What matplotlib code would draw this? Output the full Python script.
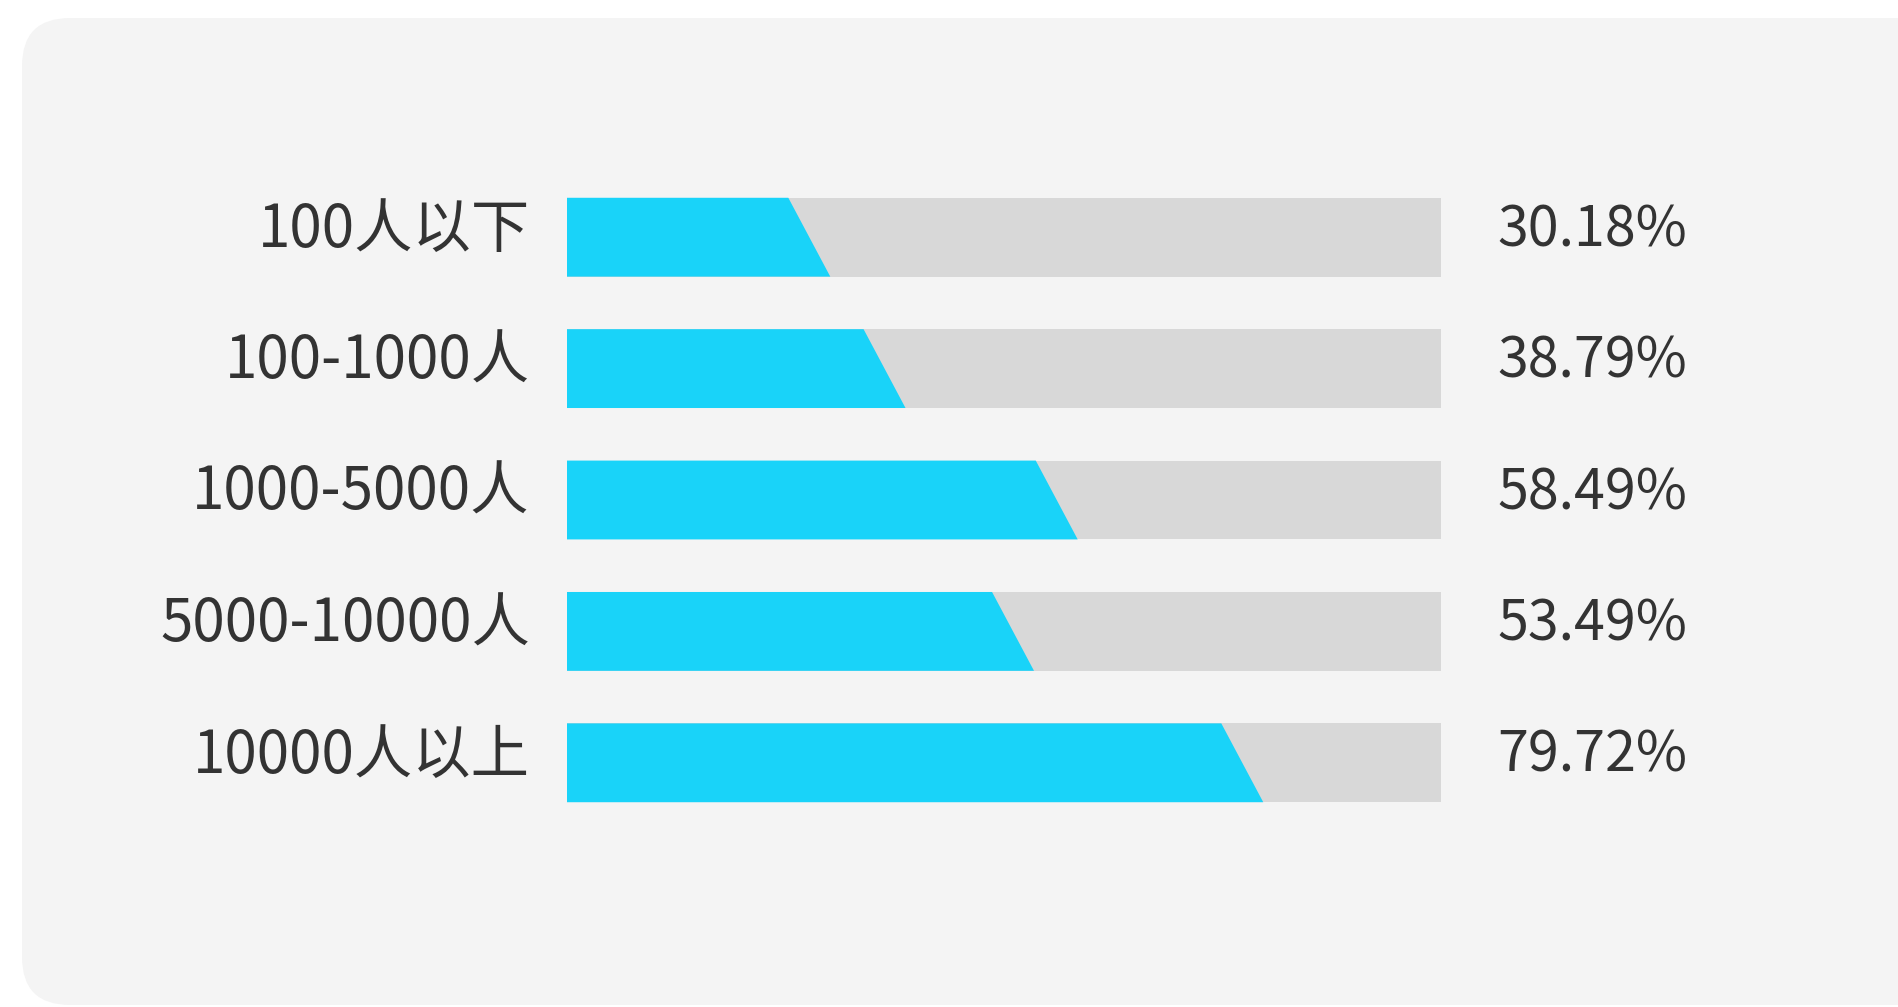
import matplotlib
matplotlib.use("Agg")
import matplotlib.pyplot as plt
from matplotlib.patches import FancyBboxPatch, Polygon, Rectangle

plt.rcParams["font.family"] = ["Noto Sans CJK SC", "DejaVu Sans"]

categories = ["100人以下", "100-1000人", "1000-5000人", "5000-10000人", "10000人以上"]
values = [30.18, 38.79, 58.49, 53.49, 79.72]
value_labels = ["30.18%", "38.79%", "58.49%", "53.49%", "79.72%"]

BLUE = "#19D3F9"
TRACK = "#D8D8D8"
PANEL = "#F4F4F4"
TEXT = "#333333"

W, H = 1898, 1007
fig = plt.figure(figsize=(W / 100, H / 100), dpi=100)
fig.patch.set_facecolor("white")

# background card drawn in a full-figure axes measured in pixels
bg = fig.add_axes([0, 0, 1, 1], zorder=0)
bg.set_xlim(0, W)
bg.set_ylim(H, 0)
bg.axis("off")
bg.add_patch(FancyBboxPatch((22, 18), 1990 - 22, 1005 - 18,
                            boxstyle="round,pad=0,rounding_size=48",
                            facecolor=PANEL, edgecolor="none"))

ax = fig.add_axes([566.5 / W, 1 - 828.5 / H, 874 / W, 657 / H], zorder=1)
ax.set_xlim(0, 100)
ax.set_ylim(len(categories) - 0.5, -0.5)
ax.axis("off")

bar_h = 0.60
slant = 4.8
text_dy = -0.05
for i, (cat, v, lab) in enumerate(zip(categories, values, value_labels)):
    top, bot = i - bar_h / 2, i + bar_h / 2
    ax.add_patch(Rectangle((0, top), 100, bar_h, facecolor=TRACK, edgecolor="none"))
    ax.add_patch(Polygon([(0, top), (v - slant, top), (v, bot), (0, bot)],
                         closed=True, facecolor=BLUE, edgecolor="none"))
    ax.text(-4.2, i + text_dy, cat, ha="right", va="center", fontsize=42, color=TEXT)
    ax.text(106.5, i + text_dy, lab, ha="left", va="center", fontsize=40, color=TEXT)

fig.savefig("out.png", dpi=100)
